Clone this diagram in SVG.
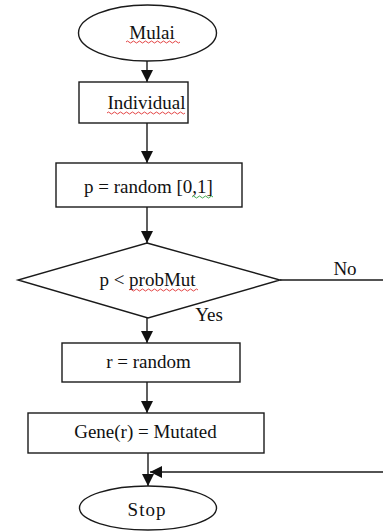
<svg xmlns="http://www.w3.org/2000/svg" width="383" height="531" viewBox="0 0 383 531">
<defs>
<style>
.shape{fill:#fff;stroke:#1a1a1a;stroke-width:1.4}
.line{fill:none;stroke:#1a1a1a;stroke-width:1.4}
text{font-family:'Liberation Serif','Times New Roman',serif;font-size:19px;fill:#111;text-anchor:middle}
.sq{fill:none;stroke:#e03030;stroke-width:0.9}
.sqg{fill:none;stroke:#30a040;stroke-width:0.9}
</style>
<marker id="arr" markerUnits="userSpaceOnUse" markerWidth="12" markerHeight="14" refX="12" refY="6" orient="auto">
<path d="M0,0 L12,6 L0,12 Z" fill="#111"/>
</marker>
</defs>
<rect width="383" height="531" fill="#fff"/>
<g id="connectors">
<path class="line" d="M147,61 V82" marker-end="url(#arr)"/>
<path class="line" d="M147,123 V163" marker-end="url(#arr)"/>
<path class="line" d="M147,207 V243" marker-end="url(#arr)"/>
<path class="line" d="M147,318 V343" marker-end="url(#arr)"/>
<path class="line" d="M147,382 V413" marker-end="url(#arr)"/>
<path class="line" d="M148,453 V486" marker-end="url(#arr)"/>
<path class="line" d="M280,280 H383"/>
<path class="line" d="M383,472 H150" marker-end="url(#arr)"/>
<text font-family="Liberation Serif, serif" x="345" y="275" font-size="18">No</text>
<text font-family="Liberation Serif, serif" x="209" y="321" font-size="18">Yes</text>
</g>
<g id="mulai">
<ellipse class="shape" cx="147.5" cy="33" rx="69" ry="28"/>
<text font-family="Liberation Serif, serif" x="152" y="39" font-size="21">Mulai</text>
<path class="sq" d="M126,42 q1.5,-2 3,0 t3,0 t3,0 t3,0 t3,0 t3,0 t3,0 t3,0 t3,0 t3,0 t3,0 t3,0 t3,0 t3,0 t3,0 t3,0 t3,0 t3,0"/>
</g>
<g id="individual">
<rect class="shape" x="79" y="82" width="109" height="41"/>
<text font-family="Liberation Serif, serif" x="146.5" y="109">Individual</text>
<path class="sq" d="M107,113 q1.5,-2 3,0 t3,0 t3,0 t3,0 t3,0 t3,0 t3,0 t3,0 t3,0 t3,0 t3,0 t3,0 t3,0 t3,0 t3,0 t3,0 t3,0 t3,0 t3,0 t3,0 t3,0 t3,0 t3,0 t3,0 t3,0 t3,0"/>
</g>
<g id="prandom">
<rect class="shape" x="56" y="163" width="186" height="44"/>
<text font-family="Liberation Serif, serif" x="148.5" y="193">p = random [0,1]</text>
<path class="sqg" d="M192,197 q1.5,-2 3,0 t3,0 t3,0 t3,0 t3,0 t3,0 t3,0"/>
</g>
<g id="decision">
<polygon class="shape" points="147,243 280,280 148,318 18,280"/>
<text font-family="Liberation Serif, serif" x="147.5" y="286">p &lt; probMut</text>
<path class="sq" d="M129,290 q1.5,-2 3,0 t3,0 t3,0 t3,0 t3,0 t3,0 t3,0 t3,0 t3,0 t3,0 t3,0 t3,0 t3,0 t3,0 t3,0 t3,0 t3,0 t3,0 t3,0 t3,0 t3,0 t3,0 t3,0"/>
</g>
<g id="rrandom">
<rect class="shape" x="62" y="343" width="178" height="39"/>
<text font-family="Liberation Serif, serif" x="148.5" y="368">r = random</text>
</g>
<g id="gene">
<rect class="shape" x="28" y="413" width="236" height="40"/>
<text font-family="Liberation Serif, serif" x="145.5" y="438">Gene(r) = Mutated</text>
</g>
<g id="stop">
<ellipse class="shape" cx="148" cy="508" rx="68.5" ry="22"/>
<text font-family="Liberation Serif, serif" x="147" y="516" letter-spacing="1">Stop</text>
</g>
</svg>
